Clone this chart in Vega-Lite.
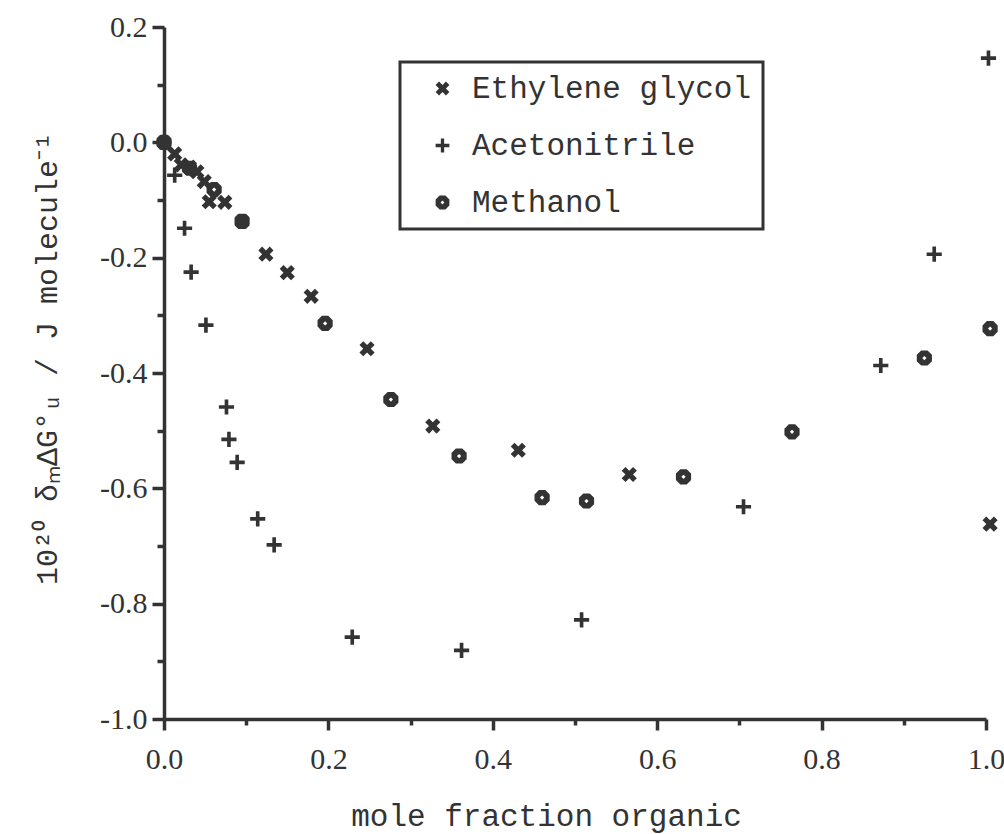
{
  "$schema": "https://vega.github.io/schema/vega-lite/v6.json",
  "width": 822,
  "height": 692,
  "autosize": {"type": "none"},
  "padding": {"left": 164, "top": 27, "right": 18, "bottom": 115},
  "background": "white",
  "config": {"view": {"stroke": null}, "legend": {"strokeWidth": 3}},
  "data": {
    "values": [
      {"series": "Ethylene glycol", "x": 0.0, "y": 0.0},
      {"series": "Ethylene glycol", "x": 0.013, "y": -0.020},
      {"series": "Ethylene glycol", "x": 0.021, "y": -0.039},
      {"series": "Ethylene glycol", "x": 0.031, "y": -0.043},
      {"series": "Ethylene glycol", "x": 0.040, "y": -0.051},
      {"series": "Ethylene glycol", "x": 0.049, "y": -0.068},
      {"series": "Ethylene glycol", "x": 0.055, "y": -0.103},
      {"series": "Ethylene glycol", "x": 0.074, "y": -0.104},
      {"series": "Ethylene glycol", "x": 0.095, "y": -0.137},
      {"series": "Ethylene glycol", "x": 0.124, "y": -0.194},
      {"series": "Ethylene glycol", "x": 0.150, "y": -0.226},
      {"series": "Ethylene glycol", "x": 0.179, "y": -0.267},
      {"series": "Ethylene glycol", "x": 0.247, "y": -0.358},
      {"series": "Ethylene glycol", "x": 0.327, "y": -0.492},
      {"series": "Ethylene glycol", "x": 0.431, "y": -0.534},
      {"series": "Ethylene glycol", "x": 0.566, "y": -0.576},
      {"series": "Ethylene glycol", "x": 1.005, "y": -0.662},
      {"series": "Acetonitrile", "x": 0.0, "y": 0.0},
      {"series": "Acetonitrile", "x": 0.013, "y": -0.057},
      {"series": "Acetonitrile", "x": 0.025, "y": -0.149},
      {"series": "Acetonitrile", "x": 0.033, "y": -0.225},
      {"series": "Acetonitrile", "x": 0.051, "y": -0.317},
      {"series": "Acetonitrile", "x": 0.076, "y": -0.459},
      {"series": "Acetonitrile", "x": 0.079, "y": -0.515},
      {"series": "Acetonitrile", "x": 0.089, "y": -0.555},
      {"series": "Acetonitrile", "x": 0.114, "y": -0.653},
      {"series": "Acetonitrile", "x": 0.134, "y": -0.698},
      {"series": "Acetonitrile", "x": 0.229, "y": -0.858},
      {"series": "Acetonitrile", "x": 0.362, "y": -0.881},
      {"series": "Acetonitrile", "x": 0.508, "y": -0.828},
      {"series": "Acetonitrile", "x": 0.705, "y": -0.632},
      {"series": "Acetonitrile", "x": 0.872, "y": -0.387},
      {"series": "Acetonitrile", "x": 0.937, "y": -0.194},
      {"series": "Acetonitrile", "x": 1.003, "y": 0.146},
      {"series": "Methanol", "x": 0.0, "y": 0.0},
      {"series": "Methanol", "x": 0.031, "y": -0.045},
      {"series": "Methanol", "x": 0.061, "y": -0.082},
      {"series": "Methanol", "x": 0.095, "y": -0.137},
      {"series": "Methanol", "x": 0.196, "y": -0.314},
      {"series": "Methanol", "x": 0.276, "y": -0.446},
      {"series": "Methanol", "x": 0.359, "y": -0.544},
      {"series": "Methanol", "x": 0.460, "y": -0.616},
      {"series": "Methanol", "x": 0.514, "y": -0.622},
      {"series": "Methanol", "x": 0.632, "y": -0.580},
      {"series": "Methanol", "x": 0.764, "y": -0.502},
      {"series": "Methanol", "x": 0.925, "y": -0.374},
      {"series": "Methanol", "x": 1.005, "y": -0.323}
    ]
  },
  "mark": {"type": "point", "filled": true, "color": "#333333", "size": 230, "opacity": 1, "strokeWidth": 0},
  "encoding": {
    "x": {
      "field": "x", "type": "quantitative",
      "scale": {"domain": [0, 1], "nice": false, "zero": false},
      "axis": {
        "title": "mole fraction organic",
        "values": [0, 0.1, 0.2, 0.3, 0.4, 0.5, 0.6, 0.7, 0.8, 0.9, 1.0],
        "labelExpr": "round(datum.value*10) % 2 != 0 ? '' : replace(format(datum.value, '.1f'), '\u2212', '-')",
        "grid": false,
        "domainColor": "#333", "domainWidth": 3.5,
        "tickColor": "#333", "tickWidth": 3.5,
        "tickSize": {"condition": {"test": "round(datum.value*10) % 2 != 0", "value": 6}, "value": 11},
        "labelFont": "Liberation Serif", "labelFontSize": 30, "labelColor": "#333",
        "labelBaseline": "alphabetic", "labelPadding": 38,
        "labelFlush": false, "labelOverlap": false, "labelBound": false,
        "titleFont": "Liberation Mono", "titleFontSize": 31, "titleFontWeight": "normal", "titleColor": "#333",
        "titleX": 382, "titleY": 106, "titleAlign": "center", "titleBaseline": "alphabetic"
      }
    },
    "y": {
      "field": "y", "type": "quantitative",
      "scale": {"domain": [-1, 0.2], "nice": false, "zero": false},
      "axis": {
        "title": "10²⁰ δₘΔG°ᵤ / J molecule⁻¹",
        "values": [-1.0, -0.9, -0.8, -0.7, -0.6, -0.5, -0.4, -0.3, -0.2, -0.1, 0, 0.1, 0.2],
        "labelExpr": "round(datum.value*10) % 2 != 0 ? '' : replace(format(datum.value, '.1f'), '\u2212', '-')",
        "grid": false,
        "domainColor": "#333", "domainWidth": 3.5,
        "tickColor": "#333", "tickWidth": 3.5,
        "tickSize": {"condition": {"test": "round(datum.value*10) % 2 != 0", "value": 7}, "value": 12},
        "labelFont": "Liberation Serif", "labelFontSize": 30, "labelColor": "#333",
        "labelPadding": 5, "labelOverlap": false, "labelBound": false, "labelFlush": false,
        "titleFont": "Liberation Mono", "titleFontSize": 30, "titleFontWeight": "normal", "titleColor": "#333",
        "titleX": -108, "titleY": 331, "titleAngle": 270, "titleAlign": "center", "titleBaseline": "alphabetic"
      }
    },
    "shape": {
      "field": "series", "type": "nominal",
      "scale": {
        "domain": ["Ethylene glycol", "Acetonitrile", "Methanol"],
        "range": [
          "M-0.5,-1L0,-0.5L0.5,-1L1,-0.5L0.5,0L1,0.5L0.5,1L0,0.5L-0.5,1L-1,0.5L-0.5,0L-1,-0.5Z",
          "M-0.24,-1L0.24,-1L0.24,-0.24L1,-0.24L1,0.24L0.24,0.24L0.24,1L-0.24,1L-0.24,0.24L-1,0.24L-1,-0.24L-0.24,-0.24Z",
          "M-0.42,-1L0.42,-1L1,-0.42L1,0.42L0.42,1L-0.42,1L-1,0.42L-1,-0.42ZM0,-0.28L-0.28,0L0,0.28L0.28,0Z"
        ]
      },
      "legend": {
        "orient": "none", "legendX": 236, "legendY": 35,
        "title": null,
        "labelFont": "Liberation Mono", "labelFontSize": 31, "labelColor": "#333",
        "labelBaseline": "middle",
        "strokeColor": "#333", "fillColor": "white",
        "padding": 11,
        "symbolSize": 190, "symbolFillColor": "#333333", "symbolStrokeWidth": 0,
        "symbolOffset": 16, "labelOffset": 14, "rowPadding": 25,
        "labelLimit": 400
      }
    }
  }
}
